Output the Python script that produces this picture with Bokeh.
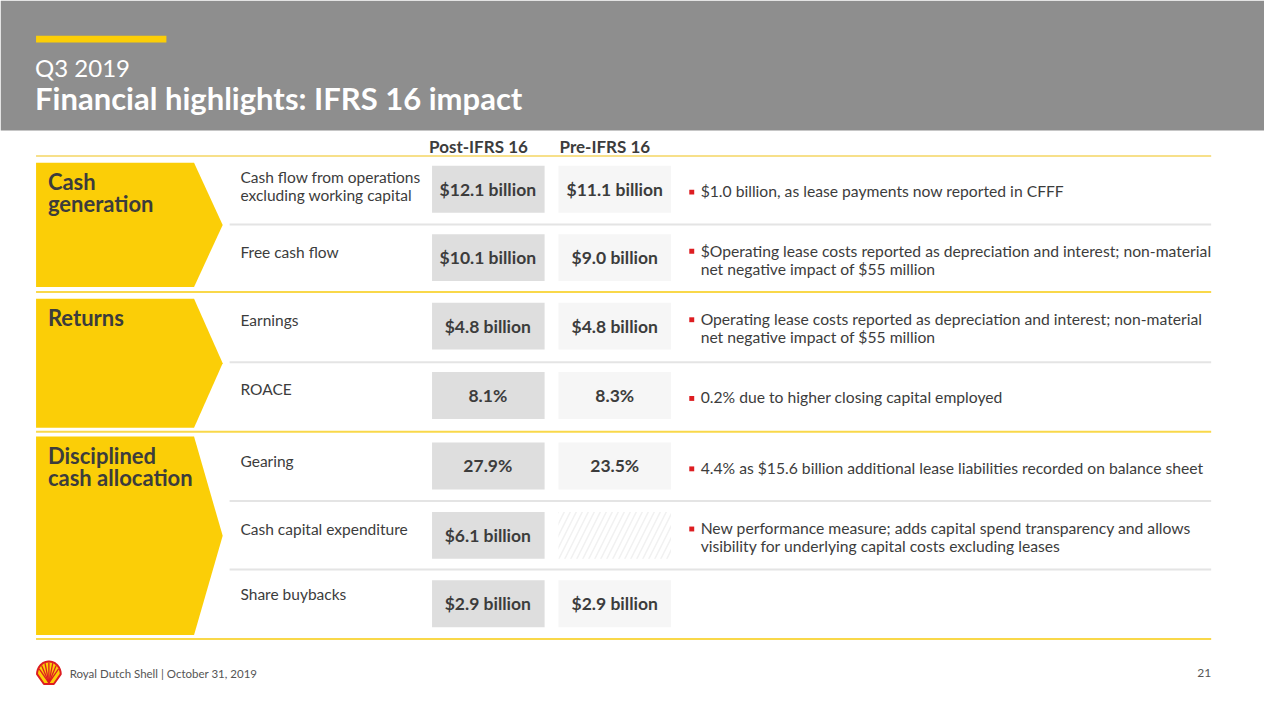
import numpy as np
from bokeh.plotting import figure
from bokeh.models import Range1d, ColumnDataSource
from bokeh.core.properties import value
from bokeh.embed import file_html
from bokeh.resources import INLINE

# ---------------- data ----------------
subtitle = "Q3 2019"
title = "Financial highlights: IFRS 16 impact"
col_headers = ["Post-IFRS 16", "Pre-IFRS 16"]
sections = ["Cash\ngeneration", "Returns", "Disciplined\ncash allocation"]
section_rows = [2, 2, 3]
metrics = ["Cash flow from operations\nexcluding working capital", "Free cash flow", "Earnings",
           "ROACE", "Gearing", "Cash capital expenditure", "Share buybacks"]
post_values = ["$12.1 billion", "$10.1 billion", "$4.8 billion", "8.1%", "27.9%", "$6.1 billion", "$2.9 billion"]
pre_values = ["$11.1 billion", "$9.0 billion", "$4.8 billion", "8.3%", "23.5%", "", "$2.9 billion"]
comments = [
    "$1.0 billion, as lease payments now reported in CFFF",
    "$Operating lease costs reported as depreciation and interest; non-material\nnet negative impact of $55 million",
    "Operating lease costs reported as depreciation and interest; non-material\nnet negative impact of $55 million",
    "0.2% due to higher closing capital employed",
    "4.4% as $15.6 billion additional lease liabilities recorded on balance sheet",
    "New performance measure; adds capital spend transparency and allows\nvisibility for underlying capital costs excluding leases",
    "",
]
footer = "Royal Dutch Shell | October 31, 2019"
page_no = "21"

# ---------------- layout ----------------
YEL = "#FBCE07"
DARK = "#3c3c3c"
FONT = "Lato"
W, H = 1264, 704

p = figure(width=W, height=H, x_range=Range1d(0, 1280), y_range=Range1d(720, 0),
           output_backend="svg", toolbar_location=None, min_border=0)
p.axis.visible = False
p.grid.visible = False
p.outline_line_color = None
p.background_fill_color = "white"
p.border_fill_color = "white"

# header band
p.quad(left=[0], right=[1280], top=[0], bottom=[133], fill_color="#8e8e8e", line_color=None)
p.quad(left=[36], right=[168], top=[36], bottom=[43], fill_color=YEL, line_color=None)
p.text(x=[35], y=[69], text=[subtitle], text_font=value(FONT), text_font_style="normal",
       text_font_size="24px", text_color="white", text_baseline="middle")
p.text(x=[35], y=[100], text=[title], text_font=value(FONT), text_font_style="bold",
       text_font_size="31px", text_color="white", text_baseline="middle")

# column headers
post_cx, pre_cx = 494, 622
p.text(x=[484, 612], y=[149, 149], text=col_headers, text_font=value(FONT), text_font_style="bold",
       text_font_size="17px", text_color=DARK, text_align="center", text_baseline="middle")

# row geometry
row_c = [193, 263, 333, 404, 476, 547, 617]
bh = 48
label_dy = [-3, -6, -6, -7, -5, -6, -10]

# section lines (yellow)
p.segment(x0=[36]*4, x1=[1226]*4, y0=[159, 298, 441, 653], y1=[159, 298, 441, 653],
          line_color=["#f7e08a", "#f9d84a", "#f9d84a", "#f9d84a"], line_width=2)
# row separators (gray)
sep = [229, 370, 512, 582]
p.segment(x0=[232]*4, x1=[1226]*4, y0=sep, y1=sep, line_color="#e4e4e4", line_width=2)

# chevrons
sec_span = [(166, 293), (305, 437), (446, 649)]
xs, ys = [], []
for (t, b) in sec_span:
    m = (t + b) / 2
    xs.append([36, 196, 225, 196, 36])
    ys.append([t, t, m, b, b])
p.patches(xs=xs, ys=ys, fill_color=YEL, line_color=None)
sec_y = [196, 324, 477]
p.text(x=[48]*3, y=sec_y, text=sections, text_font=value(FONT), text_font_style="bold",
       text_font_size="22px", text_color=DARK, text_baseline="middle", text_line_height=0.82)

# metric labels
p.text(x=[243]*7, y=[c + d for c, d in zip(row_c, label_dy)], text=metrics, text_font=value(FONT),
       text_font_size="15.5px", text_color=DARK, text_baseline="middle", text_line_height=1.0)

# value boxes
src = ColumnDataSource(dict(c=row_c, post=post_values, pre=pre_values,
                            top=[c - bh / 2 for c in row_c], bot=[c + bh / 2 for c in row_c]))
p.quad(left=437, right=551, top="top", bottom="bot", source=src, fill_color="#dedede", line_color=None)
src.data["pre_fill"] = ["#f6f6f6" if v else "white" for v in pre_values]
src.data["pre_hatch"] = ["blank" if v else "/" for v in pre_values]
p.quad(left=565, right=679, top="top", bottom="bot", source=src, fill_color="pre_fill", line_color=None,
       hatch_pattern="pre_hatch", hatch_color="#f1f1f1", hatch_scale=12, hatch_weight=1.5)
p.text(x=post_cx - 0.5, y="c", text="post", source=src, text_font=value(FONT), text_font_style="bold",
       text_font_size="17.5px", text_color=DARK, text_align="center", text_baseline="middle")
p.text(x=pre_cx, y="c", text="pre", source=src, text_font=value(FONT), text_font_style="bold",
       text_font_size="17.5px", text_color=DARK, text_align="center", text_baseline="middle")

# comments
cy, by, ctext = [], [], []
for c, t in zip(row_c, comments):
    if not t:
        continue
    n = t.count("\n") + 1
    mid = c + 2
    cy.append(mid)
    ctext.append(t)
    by.append(mid - (n - 1) * 9.5)
p.text(x=[709]*len(cy), y=cy, text=ctext, text_font=value(FONT), text_font_size="15.7px",
       text_color=DARK, text_baseline="middle", text_line_height=1.0)
p.rect(x=[700]*len(by), y=[b + 1 for b in by], width=5, height=5, fill_color="#DD1D21", line_color=None)

# footer logo (Shell pecten)
ang = np.linspace(np.pi, 0, 30)
lx = list(49 + 12 * np.cos(ang)) + [54, 44]
ly = list(689 - 13 * np.sin(ang)) + [699, 699]
p.patch(lx, ly, fill_color=YEL, line_color="#DD1D21", line_width=2)
fa = np.linspace(np.pi * 0.85, np.pi * 0.15, 7)
p.segment(x0=[49]*7, y0=[698]*7, x1=list(49 + 11 * np.cos(fa)), y1=list(689 - 12 * np.sin(fa)),
          line_color="#DD1D21", line_width=1.3)
p.text(x=[70], y=[688], text=[footer], text_font=value(FONT), text_font_size="11.5px",
       text_color="#555555", text_baseline="middle")
p.text(x=[1226], y=[688], text=[page_no], text_font=value(FONT), text_font_size="12px",
       text_color="#555555", text_baseline="middle", text_align="right")

open("out.html", "w").write(file_html(p, INLINE))
